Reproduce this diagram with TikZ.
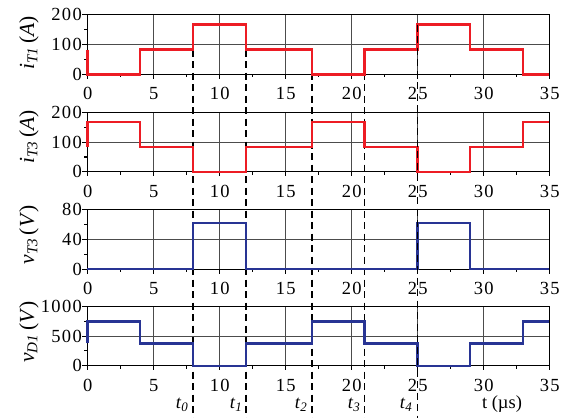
\documentclass[tikz,border=0pt]{standalone}
\usepackage{fontspec}
\setmainfont{Liberation Serif}
\newfontfamily\tickfont[LetterSpace=7]{Liberation Serif}
\definecolor{wred}{RGB}{237,28,36}
\definecolor{wblue}{RGB}{40,52,148}
\tikzset{
  gridl/.style={draw=black!70, line width=0.8pt},
  axisl/.style={draw=black, line width=1.1pt},
  wave/.style={line width=2.4pt, line join=miter},
  tl/.style={font=\tickfont\fontsize{18.5}{18.5}\selectfont, inner sep=0pt},
  ylab/.style={font=\fontsize{21.5}{21.5}\selectfont, inner sep=0pt, rotate=90},
  tlab/.style={font=\fontsize{18.5}{18.5}\selectfont, inner sep=0pt},
  marker/.style={draw=black, line width=1.6pt, dash pattern=on 7pt off 4.5pt}
}
\newcommand\Panel[4]{%
  \pgfmathsetmacro\yt{#1-59.5}
  \pgfmathsetmacro\ym{#1-29.75}
  \foreach \t in {5,10,...,30} {\pgfmathsetmacro\xx{87.3+13.2*\t}\draw[gridl] (\xx,#1) -- (\xx,\yt);}
  \draw[gridl] (87.3,\ym) -- (549.3,\ym);
  \draw[axisl] (87.3,\yt) rectangle (549.3,#1);
  \foreach \t in {0,5,...,35} {\pgfmathsetmacro\xx{87.3+13.2*\t}
    \draw[axisl] (\xx,#1) -- (\xx,#1+4.5);
    \node[tl] at (\xx+0.5,#1+19.5) {\t};}
  \foreach \t in {2.5,7.5,...,32.5} {\pgfmathsetmacro\xx{87.3+13.2*\t}
    \draw[axisl] (\xx,#1) -- (\xx,#1+3);}
  \draw[axisl] (87.3,#1) -- (82.3,#1) (87.3,\ym) -- (82.3,\ym) (87.3,\yt) -- (82.3,\yt);
  \draw[axisl] (87.3,#1-14.9) -- (84.3,#1-14.9) (87.3,#1-44.6) -- (84.3,#1-44.6);
  \node[tl, anchor=east] at (82,#1) {#2};
  \node[tl, anchor=east] at (82,\ym) {#3};
  \node[tl, anchor=east] at (82,\yt) {#4};
}
\begin{document}
\begin{tikzpicture}[x=1pt,y=-1pt]
\useasboundingbox (0,0) rectangle (563,418);
\Panel{74.3}{0}{100}{200}
\Panel{171.9}{0}{100}{200}
\Panel{269.1}{0}{40}{80}
\Panel{365.8}{0}{500}{1000}
% axis labels
\node[ylab] (l1) at (29,43) {\textit{i}\textsubscript{\textit{T1}}\,(\textit{A})};
\node[ylab] (l2) at (29,137) {\textit{i}\textsubscript{\textit{T3}}\,(\textit{A})};
\node[ylab] (l3) at (29,235) {\textit{v}\textsubscript{\textit{T3}}\,(\textit{V})};
\node[ylab] (l4) at (29,332) {\textit{v}\textsubscript{\textit{D1}}\,(\textit{V})};
% marker lines
\coordinate (m0a) at (192.9,49.6); \coordinate (m0b) at (192.9,418);
\coordinate (m1a) at (245.7,49.6); \coordinate (m1b) at (245.7,418);
\coordinate (m2a) at (311.7,49.6); \coordinate (m2b) at (311.7,418);
\coordinate (m3a) at (364.5,49.6); \coordinate (m3b) at (364.5,418);
\coordinate (m4a) at (417.3,24.6); \coordinate (m4b) at (417.3,418);
\draw[marker] (m0a) -- (m0b);
\draw[marker] (m1a) -- (m1b);
\draw[marker] (m2a) -- (m2b);
\draw[marker] (m3a) -- (m3b);
% waveforms
\begin{scope}[shift={(87.3,74.3)}, x=13.2pt, y=0.2975pt]
\draw[wave, wred] (0,83) -- (0,0) -- (4,0) -- (4,83) -- (8,83) -- (8,167) -- (12,167) -- (12,83) -- (17,83) -- (17,0) -- (21,0) -- (21,83) -- (25,83) -- (25,167) -- (29,167) -- (29,83) -- (33,83) -- (33,0) -- (35,0);
\end{scope}
\begin{scope}[shift={(87.3,171.9)}, x=13.2pt, y=0.2975pt]
\draw[wave, wred] (0,83) -- (0,167) -- (4,167) -- (4,83) -- (8,83) -- (8,0) -- (12,0) -- (12,83) -- (17,83) -- (17,167) -- (21,167) -- (21,83) -- (25,83) -- (25,0) -- (29,0) -- (29,83) -- (33,83) -- (33,167) -- (35,167);
\end{scope}
\begin{scope}[shift={(87.3,269.1)}, x=13.2pt, y=0.74375pt]
\draw[wave, wblue] (0,0) -- (8,0) -- (8,62) -- (12,62) -- (12,0) -- (25,0) -- (25,62) -- (29,62) -- (29,0) -- (35,0);
\end{scope}
\begin{scope}[shift={(87.3,365.8)}, x=13.2pt, y=0.0595pt]
\draw[wave, wblue] (0,375) -- (0,745) -- (4,745) -- (4,375) -- (8,375) -- (8,0) -- (12,0) -- (12,375) -- (17,375) -- (17,745) -- (21,745) -- (21,375) -- (25,375) -- (25,0) -- (29,0) -- (29,375) -- (33,375) -- (33,745) -- (35,745);
\end{scope}
\draw[marker] (m4a) -- (m4b);
% time labels
\node[tlab] (t0) at (182,405) {\textit{t}\textsubscript{\textit{0}}};
\node[tlab] (t1) at (236,405) {\textit{t}\textsubscript{\textit{1}}};
\node[tlab] (t2) at (301,405) {\textit{t}\textsubscript{\textit{2}}};
\node[tlab] (t3) at (354,405) {\textit{t}\textsubscript{\textit{3}}};
\node[tlab] (t4) at (406,405) {\textit{t}\textsubscript{\textit{4}}};
\node[tlab] (tu) at (502,404) {t (µs)};
\end{tikzpicture}
\end{document}
